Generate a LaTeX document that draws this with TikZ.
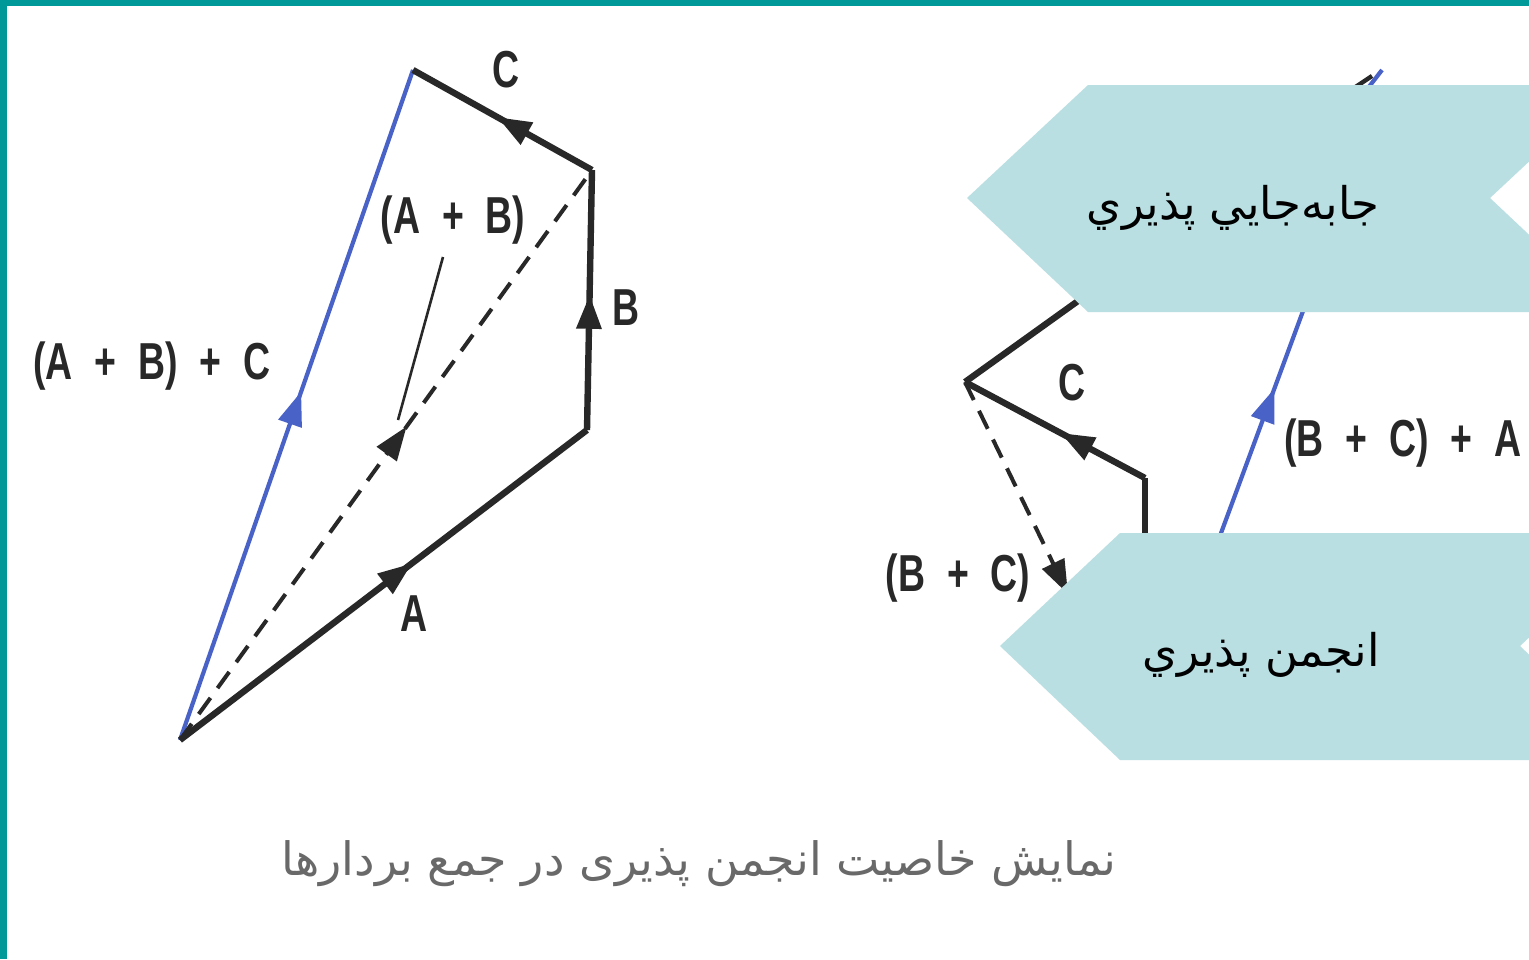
\documentclass[tikz,border=0pt]{standalone}
\usepackage{fontspec}
\usepackage{graphicx}
\usetikzlibrary{arrows.meta,decorations.markings}
\setmainfont{Liberation Sans}
\newfontfamily\lblfont[WordSpace=2.1]{Liberation Sans}
\newfontfamily\arabicfont[Script=Arabic]{DejaVu Sans}
\TeXXeTstate=1
\definecolor{framecol}{RGB}{0,153,153}
\definecolor{boxfill}{RGB}{185,223,226}
\definecolor{sumblue}{RGB}{72,98,200}
\definecolor{ink}{RGB}{40,40,40}
\definecolor{capgray}{RGB}{105,105,105}
\newcommand{\vlabel}[1]{{\lblfont\bfseries\fontsize{26}{30}\selectfont\scalebox{0.72}[1]{#1}}}

\begin{document}
\begin{tikzpicture}[x=0.5pt,y=-0.5pt,
  vec/.style={color=ink,line width=3.2pt},
  sumvec/.style={color=sumblue,line width=2.1pt},
  partvec/.style={color=ink,line width=2pt,dash pattern=on 10pt off 6pt},
  midarrow/.style={postaction={decorate},decoration={markings,
    mark=at position #1 with {\arrow{Triangle[length=17pt,width=12pt]}}}},
  lbl/.style={inner sep=0pt,text=ink},
  chevtext/.style={inner sep=0pt,anchor=east,font=\arabicfont\fontsize{22.5}{28}\selectfont}]
  \useasboundingbox (0,0) rectangle (1529,959);
  \clip (0,0) rectangle (1529,959);
  \fill[white] (0,0) rectangle (1529,959);
  \fill[framecol] (0,0) rectangle (1529,6);
  \fill[framecol] (0,0) rectangle (7,959);

  % (A + B) + C
  \coordinate (O) at (180,740);
  \coordinate (A) at (587,430);
  \coordinate (B) at (592,170);
  \coordinate (C) at (413,70);
  \draw[sumvec,midarrow=0.52] (O) -- (C);
  \draw[partvec,midarrow=0.55] (O) -- (B);
  \draw[vec,midarrow=0.57] (O) -- (A);
  \draw[vec,midarrow=0.52] (A) -- (B);
  \draw[vec,midarrow=0.53,line join=miter] (B) -- (C);
  \node[lbl] (lC) at (506,70) {\vlabel{C}};
  \node[lbl] (lB) at (626,308) {\vlabel{B}};
  \node[lbl] (lA) at (414,614) {\vlabel{A}};
  \node[lbl] (lAB) at (453,220) {\vlabel{(A + B)}};
  \node[lbl] (lABC) at (152,366) {\vlabel{(A + B) + C}};
  \coordinate (ABtip) at (398,420);
  \draw[ink,line width=1.3pt] (443,257) -- (ABtip);

  % (B + C) + A
  \coordinate (P) at (965,382);
  \coordinate (Q) at (1145,478);
  \draw[vec,line join=miter] (1110,278) -- (P);
  \draw[vec,midarrow=0.47] (Q) -- (P);
  \draw[vec] (Q) -- (1145,600);
  \draw[partvec,-{Triangle[length=17pt,width=12pt]}] (P) -- (1068,594);
  \draw[sumvec,midarrow=0.62] (1200,590) -- (1320,265);
  \draw[ink,line width=2.2pt] (1354,88) -- (1372,76);
  \draw[sumvec] (1368,88) -- (1382,70);
  \node[lbl] (rC) at (1072,383) {\vlabel{C}};
  \node[lbl,anchor=west] (rBCA) at (1284,443) {\vlabel{(B + C) + A}};
  \node[lbl] (rBC) at (958,578) {\vlabel{(B + C)}};

  % chevrons
  \fill[boxfill] (967,198) -- (1088,85) -- (1611,85) -- (1490,198)
    -- (1611,312) -- (1088,312) -- cycle;
  \fill[boxfill] (1000,646) -- (1120,533) -- (1640,533) -- (1520,646)
    -- (1640,760) -- (1120,760) -- cycle;
  \node[chevtext] (comm) at (1380,208) {\beginR جابه‌جايي پذيري\endR};
  \node[chevtext] (assoc) at (1380,655) {\beginR انجمن پذيري\endR};

  \node[inner sep=0pt,text=capgray,font=\arabicfont\fontsize{23}{28}\selectfont]
    (cap) at (699,864) {\beginR نمایش خاصیت انجمن پذیری در جمع بردارها\endR};
\end{tikzpicture}
\end{document}
